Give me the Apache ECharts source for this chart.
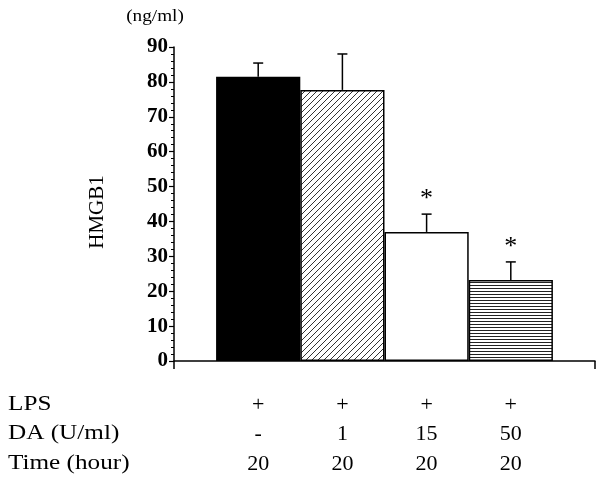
<!DOCTYPE html>
<html>
<head>
<meta charset="utf-8">
<script src="https://cdn.jsdelivr.net/npm/echarts@6/dist/echarts.min.js"></script>
<style>html,body{margin:0;padding:0;background:#fff}#c{width:600px;height:480px}</style>
</head>
<body>
<div id="c"></div>
<script>
// ---- data ----
var groups = ['LPS', 'LPS+DA1', 'LPS+DA15', 'LPS+DA50'];
var means = [81.5, 77.7, 37.0, 23.2];
var errors = [3.9, 10.3, 5.1, 5.2];
var signif = ['', '', '*', '*'];
var rowHeaders = ['LPS', 'DA (U/ml)', 'Time (hour)'];
var lpsRow = ['+', '+', '+', '+'];
var daRow = ['-', '1', '15', '50'];
var timeRow = ['20', '20', '20', '20'];
var yMin = 0, yMax = 90, yStep = 10;
var unitLabel = '(ng/ml)';
var yName = 'HMGB1';

// ---- patterns ----
function diagPattern() {
  var c = document.createElement('canvas'); c.width = 6; c.height = 6;
  var g = c.getContext('2d');
  g.fillStyle = '#fff'; g.fillRect(0, 0, 6, 6);
  g.strokeStyle = '#333'; g.lineWidth = 1;
  g.beginPath();
  g.moveTo(0, 6); g.lineTo(6, 0);
  g.moveTo(-1, 1); g.lineTo(1, -1);
  g.moveTo(5, 7); g.lineTo(7, 5);
  g.stroke();
  return c;
}
function horizPattern() {
  var c = document.createElement('canvas'); c.width = 4; c.height = 3;
  var g = c.getContext('2d');
  g.fillStyle = '#fff'; g.fillRect(0, 0, 4, 3);
  g.fillStyle = '#222'; g.fillRect(0, 0, 4, 1);
  return c;
}
var fills = [
  '#000',
  { image: diagPattern(), repeat: 'repeat' },
  '#fff',
  { image: horizPattern(), repeat: 'repeat' }
];

// axis categories: padding slots at both ends
var cats = [''].concat(groups).concat(['']);
var barData = [null];
for (var i = 0; i < means.length; i++) {
  barData.push({ value: means[i], itemStyle: { color: fills[i] } });
}
barData.push(null);
var errData = means.map(function (m, i) { return [i + 1, m, errors[i]]; });

var serif = 'Liberation Serif';
var chart = echarts.init(document.getElementById('c'));
chart.setOption({
  animation: false,
  backgroundColor: '#fff',
  grid: { left: 174, right: 5, top: 47, bottom: 119 },
  xAxis: {
    type: 'category',
    data: cats,
    boundaryGap: false,
    axisLine: { lineStyle: { color: '#000', width: 1.5 } },
    axisTick: {
      show: true, length: 8,
      interval: function (idx) { return idx === 0 || idx === cats.length - 1; },
      lineStyle: { color: '#000', width: 1.5 }
    },
    axisLabel: {
      interval: 0,
      margin: 29,
      color: '#000',
      fontFamily: serif,
      fontSize: 22,
      lineHeight: 29.5,
      formatter: function (v, idx) {
        var k = idx - 1;
        if (k < 0 || k >= groups.length) return '';
        return lpsRow[k] + '\n' + daRow[k] + '\n' + timeRow[k];
      }
    },
    splitLine: { show: false }
  },
  yAxis: {
    type: 'value',
    min: yMin, max: yMax, interval: yStep,
    axisLine: { show: true, lineStyle: { color: '#000', width: 1.5 } },
    axisTick: { show: true, length: 5, lineStyle: { color: '#000', width: 1.2 } },
    minorTick: { show: true, splitNumber: 5, length: 3, lineStyle: { color: '#000', width: 1 } },
    axisLabel: { color: '#000', fontFamily: serif, fontWeight: 'bold', fontSize: 21, margin: 6 },
    splitLine: { show: false }
  },
  graphic: [
    { type: 'text', x: 155, y: 17, scaleX: 1.2,
      style: { text: unitLabel, font: '16px ' + serif, fill: '#000', align: 'center', verticalAlign: 'middle' } },
    { type: 'text', x: 97, y: 212, rotation: Math.PI / 2,
      style: { text: yName, font: '21px ' + serif, fill: '#000', align: 'center', verticalAlign: 'middle' } },
    { type: 'text', x: 8, y: 404, scaleX: 1.2,
      style: { text: rowHeaders[0], font: '21px ' + serif, fill: '#000', verticalAlign: 'middle' } },
    { type: 'text', x: 8, y: 433, scaleX: 1.2,
      style: { text: rowHeaders[1], font: '21px ' + serif, fill: '#000', verticalAlign: 'middle' } },
    { type: 'text', x: 8, y: 463, scaleX: 1.2,
      style: { text: rowHeaders[2], font: '21px ' + serif, fill: '#000', verticalAlign: 'middle' } }
  ],
  series: [
    {
      type: 'bar',
      data: barData,
      barWidth: '100%',
      itemStyle: { borderColor: '#000', borderWidth: 1.5 },
      z: 2
    },
    {
      type: 'custom',
      data: errData,
      encode: { x: 0, y: 1 },
      z: 3,
      renderItem: function (params, api) {
        var x = api.value(0), m = api.value(1), e = api.value(2);
        var p0 = api.coord([x, m]);
        var p1 = api.coord([x, m + e]);
        var ch = [
          { type: 'line', shape: { x1: p0[0], y1: p0[1], x2: p1[0], y2: p1[1] }, style: { stroke: '#000', lineWidth: 1.5 } },
          { type: 'line', shape: { x1: p1[0] - 5, y1: p1[1], x2: p1[0] + 5, y2: p1[1] }, style: { stroke: '#000', lineWidth: 1.5 } }
        ];
        var s = signif[params.dataIndex];
        if (s) {
          ch.push({ type: 'text', style: { text: s, x: p1[0], y: p1[1] - 2, align: 'center', verticalAlign: 'bottom', font: '26px ' + serif, fill: '#000' } });
        }
        return { type: 'group', children: ch };
      }
    }
  ]
});
</script>
</body>
</html>
